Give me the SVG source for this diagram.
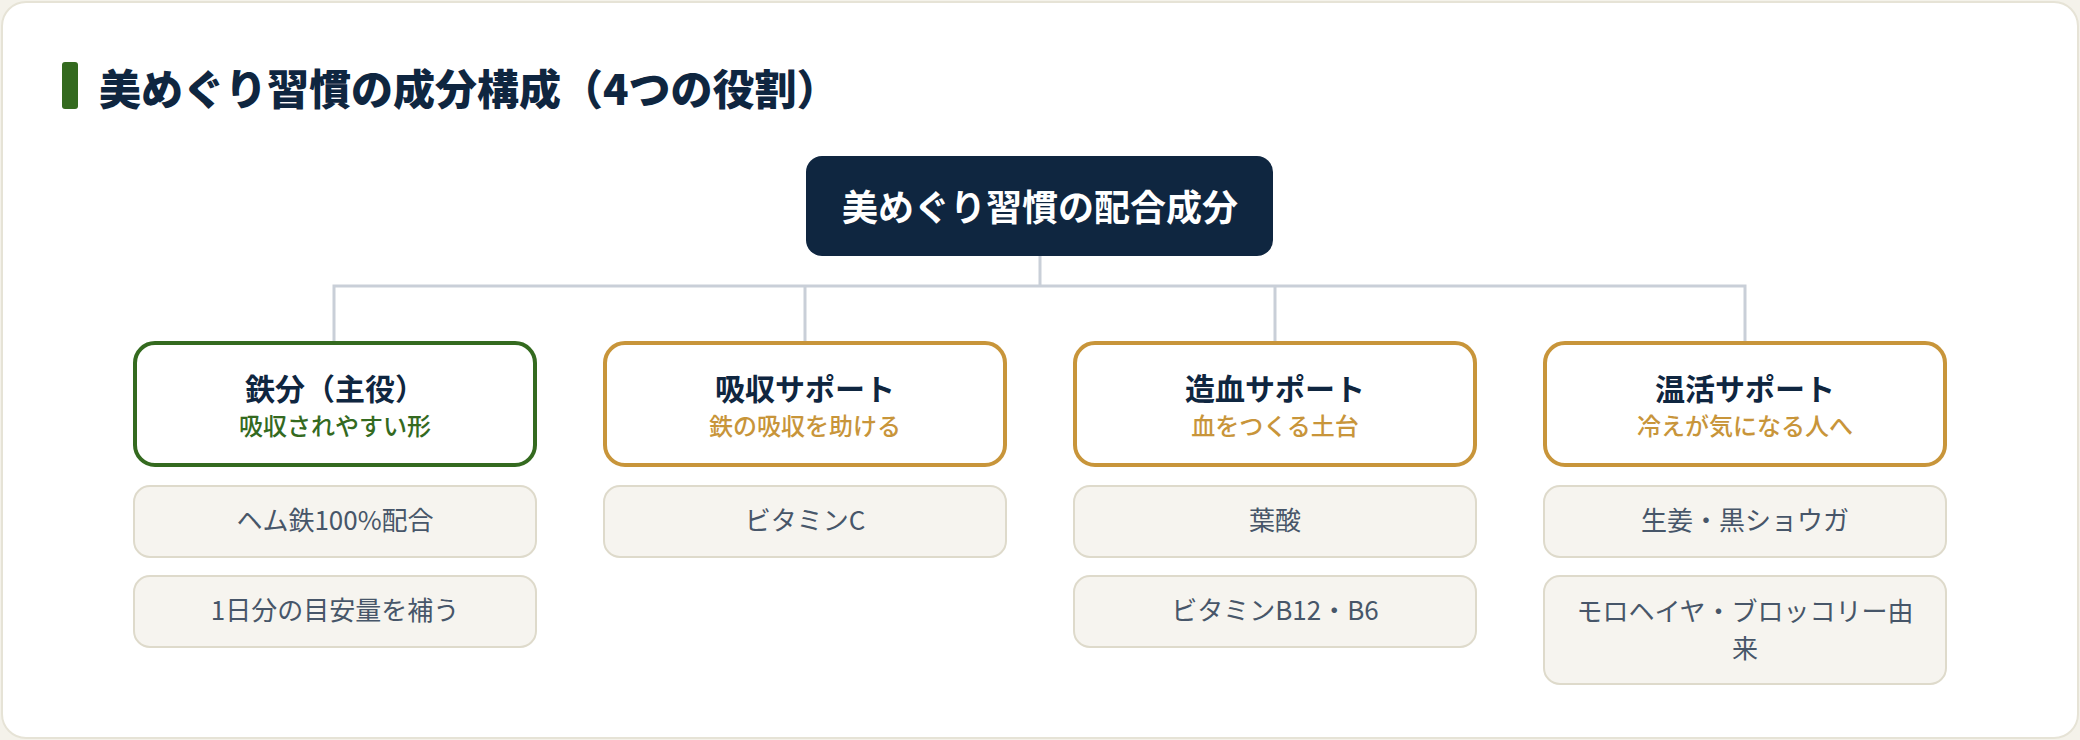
<svg xmlns="http://www.w3.org/2000/svg" width="2080" height="740" viewBox="0 0 2080 740">
<style>
text{font-family:"Noto Sans CJK JP","Noto Sans",sans-serif;}
.h1{font-size:42px;font-weight:900;fill:#0f2640;}
.root{font-size:36px;font-weight:700;fill:#ffffff;text-anchor:middle;}
.ct{font-size:30px;font-weight:700;fill:#0f2640;text-anchor:middle;}
.sg{font-size:24px;font-weight:500;fill:#346a1f;text-anchor:middle;}
.so{font-size:24px;font-weight:500;fill:#c8953a;text-anchor:middle;}
.it{font-size:26px;font-weight:400;fill:#475669;text-anchor:middle;}
.cat{fill:#ffffff;stroke-width:4;}
.green{stroke:#346a1f;}
.gold{stroke:#c8953a;}
.item{fill:#f6f4ef;stroke:#dedacb;stroke-width:2;}
.conn{stroke:#c9cfd8;stroke-width:3;fill:none;}
</style>
<rect x="0" y="0" width="2080" height="740" fill="#f4f2ea"/>
<rect x="2" y="2" width="2076" height="736" rx="24" fill="#ffffff" stroke="#e6e3d6" stroke-width="2"/>
<g id="title">
<rect x="62" y="62" width="16" height="47" rx="3" fill="#346a1f"/>
<text class="h1" x="99" y="105">美めぐり習慣の成分構成（4つの役割）</text>
</g>
<g id="connectors">
<path class="conn" d="M1040 256V286M334 341V286H1745V341M805 286V341M1275 286V341"/>
</g>
<g id="root">
<rect x="806" y="156" width="467" height="100" rx="16" fill="#0f2640"/>
<text class="root" x="1040" y="221">美めぐり習慣の配合成分</text>
</g>
<g id="cat-iron">
<rect class="cat green" x="135" y="343" width="400" height="122" rx="20"/>
<text class="ct" x="335" y="400">鉄分（主役）</text>
<text class="sg" x="335" y="435">吸収されやすい形</text>
</g>
<g id="cat-absorb">
<rect class="cat gold" x="605" y="343" width="400" height="122" rx="20"/>
<text class="ct" x="805" y="400">吸収サポート</text>
<text class="so" x="805" y="435">鉄の吸収を助ける</text>
</g>
<g id="cat-blood">
<rect class="cat gold" x="1075" y="343" width="400" height="122" rx="20"/>
<text class="ct" x="1275" y="400">造血サポート</text>
<text class="so" x="1275" y="435">血をつくる土台</text>
</g>
<g id="cat-warm">
<rect class="cat gold" x="1545" y="343" width="400" height="122" rx="20"/>
<text class="ct" x="1745" y="400">温活サポート</text>
<text class="so" x="1745" y="435">冷えが気になる人へ</text>
</g>
<g id="item-iron-1">
<rect class="item" x="134" y="486" width="402" height="71" rx="16"/>
<text class="it" x="335" y="530">ヘム鉄100%配合</text>
</g>
<g id="item-iron-2">
<rect class="item" x="134" y="576" width="402" height="71" rx="16"/>
<text class="it" x="335" y="620">1日分の目安量を補う</text>
</g>
<g id="item-absorb-1">
<rect class="item" x="604" y="486" width="402" height="71" rx="16"/>
<text class="it" x="805" y="530">ビタミンC</text>
</g>
<g id="item-blood-1">
<rect class="item" x="1074" y="486" width="402" height="71" rx="16"/>
<text class="it" x="1275" y="530">葉酸</text>
</g>
<g id="item-blood-2">
<rect class="item" x="1074" y="576" width="402" height="71" rx="16"/>
<text class="it" x="1275" y="620">ビタミンB12・B6</text>
</g>
<g id="item-warm-1">
<rect class="item" x="1544" y="486" width="402" height="71" rx="16"/>
<text class="it" x="1745" y="530">生姜・黒ショウガ</text>
</g>
<g id="item-warm-2">
<rect class="item" x="1544" y="576" width="402" height="108" rx="16"/>
<text class="it" x="1745" y="621">モロヘイヤ・ブロッコリー由</text>
<text class="it" x="1745" y="658">来</text>
</g>
</svg>
